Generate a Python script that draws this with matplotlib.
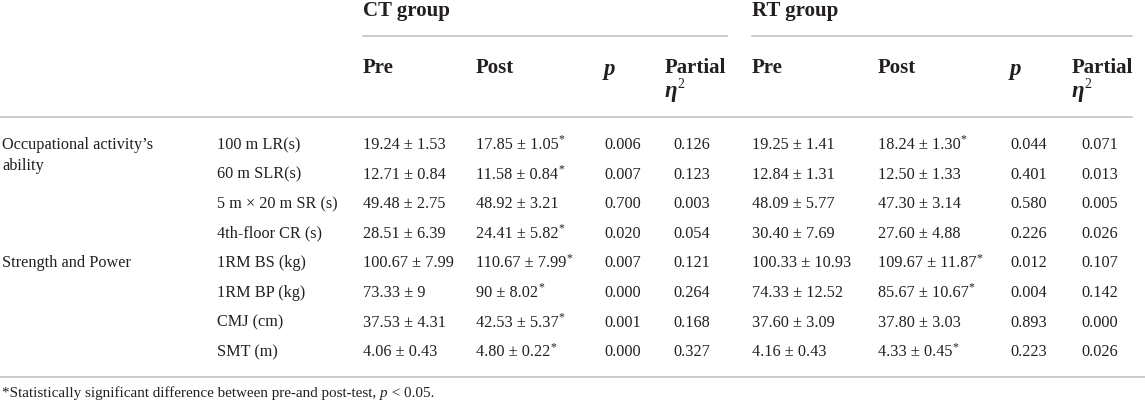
import matplotlib
matplotlib.use("Agg")
import matplotlib.pyplot as plt

groups = ["CT group", "RT group"]
col_heads = ["Pre", "Post", "p", "Partial"]
categories = [["Occupational activity’s", "ability"], ["Strength and Power"]]
category_rows = [0, 4]
measures = ["100 m LR(s)", "60 m SLR(s)", "5 m × 20 m SR (s)", "4th-floor CR (s)",
            "1RM BS (kg)", "1RM BP (kg)", "CMJ (cm)", "SMT (m)"]

ct_pre = ["19.24 ± 1.53", "12.71 ± 0.84", "49.48 ± 2.75", "28.51 ± 6.39",
          "100.67 ± 7.99", "73.33 ± 9", "37.53 ± 4.31", "4.06 ± 0.43"]
ct_post = ["17.85 ± 1.05", "11.58 ± 0.84", "48.92 ± 3.21", "24.41 ± 5.82",
           "110.67 ± 7.99", "90 ± 8.02", "42.53 ± 5.37", "4.80 ± 0.22"]
ct_sig = [True, True, False, True, True, True, True, True]
ct_p = ["0.006", "0.007", "0.700", "0.020", "0.007", "0.000", "0.001", "0.000"]
ct_eta = ["0.126", "0.123", "0.003", "0.054", "0.121", "0.264", "0.168", "0.327"]

rt_pre = ["19.25 ± 1.41", "12.84 ± 1.31", "48.09 ± 5.77", "30.40 ± 7.69",
          "100.33 ± 10.93", "74.33 ± 12.52", "37.60 ± 3.09", "4.16 ± 0.43"]
rt_post = ["18.24 ± 1.30", "12.50 ± 1.33", "47.30 ± 3.14", "27.60 ± 4.88",
           "109.67 ± 11.87", "85.67 ± 10.67", "37.80 ± 3.03", "4.33 ± 0.45"]
rt_sig = [True, False, False, False, True, True, False, True]
rt_p = ["0.044", "0.401", "0.580", "0.226", "0.012", "0.004", "0.893", "0.223"]
rt_eta = ["0.071", "0.013", "0.005", "0.026", "0.107", "0.142", "0.000", "0.026"]

footnote = ["*Statistically significant difference between pre-and post-test, ", "p", " < 0.05."]

W, H = 1145, 404
fig = plt.figure(figsize=(W / 100, H / 100), dpi=100)
ax = fig.add_axes([0, 0, 1, 1])
ax.set_xlim(0, W)
ax.set_ylim(H, 0)
ax.axis("off")

FONT = "Liberation Serif"
TXT = "#231f20"
LINE = "#bcbcbc"
body = 11.7
head = 15.0

# column x positions (left edges) and centers for eta
group_x = [363, 752]
pre_x = [363, 752]
post_x = [476, 878]
p_x = [604, 1010]
eta_x = [665, 1072]
eta_c = [692, 1100]
line_ends = [727, 1132]

row_y0 = 145
row_dy = 29.6

# header
for g in range(2):
    ax.text(group_x[g], 11, groups[g], fontsize=head, fontweight="bold",
            family=FONT, color=TXT, va="center", ha="left")
    ax.plot([group_x[g], line_ends[g]], [36, 36], color=LINE, lw=1.1)
    ax.text(pre_x[g], 68, col_heads[0], fontsize=head, fontweight="bold",
            family=FONT, color=TXT, va="center")
    ax.text(post_x[g], 68, col_heads[1], fontsize=head, fontweight="bold",
            family=FONT, color=TXT, va="center")
    ax.text(p_x[g], 70, col_heads[2], fontsize=head + 1.5, fontweight="bold",
            fontstyle="italic", family=FONT, color=TXT, va="center")
    ax.text(eta_x[g], 68, col_heads[3], fontsize=head, fontweight="bold",
            family=FONT, color=TXT, va="center")
    eta = ax.text(eta_x[g], 92, "η", fontsize=head + 1.5, fontweight="bold",
                  fontstyle="italic", family=FONT, color=TXT, va="center")
    ax.annotate("2", xy=(1, 0.55), xycoords=eta, fontsize=10, family=FONT,
                color=TXT, va="bottom", ha="left")

ax.plot([0, 1132], [117, 117], color=LINE, lw=1.1)
ax.plot([0, W], [377, 377], color=LINE, lw=1.1)

# categories
for cat, r in zip(categories, category_rows):
    for k, line in enumerate(cat):
        ax.text(2, row_y0 + r * row_dy + k * 21, line, fontsize=body, family=FONT,
                color=TXT, va="center", ha="left")


def star_text(x, y, s, sig):
    t = ax.text(x, y, s, fontsize=body, family=FONT, color=TXT, va="center")
    if sig:
        ax.annotate("*", xy=(1, 0.45), xycoords=t, fontsize=8.5, family=FONT,
                    color=TXT, va="bottom", ha="left")


for i, m in enumerate(measures):
    y = row_y0 + i * row_dy
    ax.text(217, y, m, fontsize=body, family=FONT, color=TXT, va="center")
    star_text(pre_x[0], y, ct_pre[i], False)
    star_text(post_x[0], y, ct_post[i], ct_sig[i])
    ax.text(p_x[0], y, ct_p[i], fontsize=body, family=FONT, color=TXT, va="center")
    ax.text(eta_c[0], y, ct_eta[i], fontsize=body, family=FONT, color=TXT,
            va="center", ha="center")
    star_text(pre_x[1], y, rt_pre[i], False)
    star_text(post_x[1], y, rt_post[i], rt_sig[i])
    ax.text(p_x[1], y, rt_p[i], fontsize=body, family=FONT, color=TXT, va="center")
    ax.text(eta_c[1], y, rt_eta[i], fontsize=body, family=FONT, color=TXT,
            va="center", ha="center")

# footnote
fs = 10.9
t = ax.text(2, 393, footnote[0], fontsize=fs, family=FONT, color=TXT, va="center")
t = ax.annotate(footnote[1], xy=(1, 0), xycoords=t, fontsize=fs, family=FONT,
                fontstyle="italic", color=TXT, va="bottom", ha="left")
ax.annotate(footnote[2], xy=(1, 0), xycoords=t, fontsize=fs, family=FONT,
            color=TXT, va="bottom", ha="left")

fig.savefig("out.png", dpi=100)
